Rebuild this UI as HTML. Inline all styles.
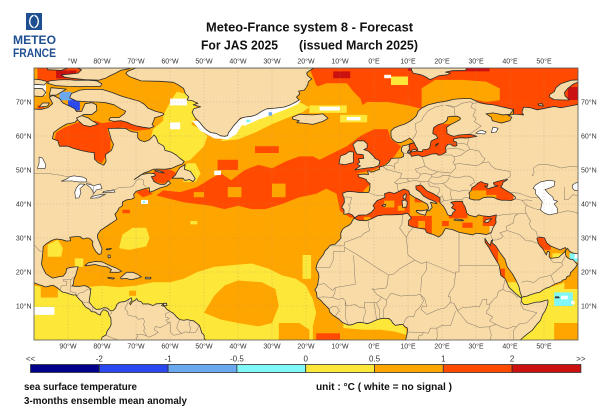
<!DOCTYPE html>
<html><head><meta charset="utf-8"><style>
html,body{margin:0;padding:0;background:#fff}
svg{display:block}
.Y{fill:#fde83a}.O{fill:#ffa500}.R{fill:#ff4a00}.D{fill:#cc1111}.W{fill:#fff}.C{fill:#80f8f8}.LB{fill:#6aa8f0}.B{fill:#2a48f0}
.t{font-family:"Liberation Sans",sans-serif;font-size:7px;fill:#333}
</style></head><body>
<svg width="612" height="408" viewBox="0 0 612 408" xmlns="http://www.w3.org/2000/svg">
<rect width="612" height="408" fill="#fff"/>
<defs>
<clipPath id="cMed"><polygon points="-5.6,36 -4.5,36.7 -2.1,36.8 -0.7,37.6 0.2,38.8 -0.3,39.5 0.9,41 3.2,41.9 3.1,43 4.5,43.5 6,43.1 7.5,43.8 8.8,44.4 10.2,43.9 10.5,42.9 12,41.9 13.5,41.2 15.6,40 16.1,38.9 15.7,38 16.2,38 17.1,39 16.6,40.5 18.5,40.1 18,40.7 16,41.5 14.5,42.4 13.6,43.5 12.4,44.3 12.3,45.3 13.7,45.6 14.3,45.2 15.5,43.9 17.5,43 19.4,41.8 19.4,40.3 20.3,39.5 21,38.4 21.7,36.8 22.8,36.5 23.2,37.5 24,38.2 22.8,38.9 23.5,39.7 22.6,40.5 24,40.8 26,40.8 26.2,40.1 26.7,39.3 27,38.5 27.3,37.3 28,36.7 30,36.2 30.7,36.8 32,36.5 34,36.3 36,36.8 35.8,35.5 35.9,34.5 35,33 34.5,31.6 33,31 32,31.2 30,31.4 29,30.9 25,31.7 23,32.5 21,32.8 20,31 19,30.3 17.5,31 15.5,31.6 15,32.6 13,32.9 11.5,33.2 10.1,33.7 10.2,35.2 11,35.8 10.3,36.8 9.8,37.3 8,36.9 5,36.8 3,36.8 1,36.5 -1,35.5 -2.2,35.1 -4.5,35.2 -5.9,35.8"/></clipPath>
<clipPath id="cBS"><polygon points="28,41.6 28.2,42.6 27.9,43.2 28.6,44 28.8,44.8 29.7,45.3 30.5,46.1 31.5,46.6 32.5,46.1 33.5,45.9 33.4,45.2 32.5,45.3 33.6,44.5 34.5,44.8 35.5,45.1 36.5,45.3 35.4,45.6 35.1,46.2 36.5,46.7 38.2,47.1 39.3,47.2 38,46.4 37.7,45.6 37.3,45 38.2,44.4 39.5,43.6 40.5,43 41.6,42 41.5,41.5 40.3,41 39,41.1 37.5,41.1 36.3,41.4 35.5,41.8 34.8,42 33.3,42 32,41.8 31,41.2 29.2,41.2"/></clipPath>
<clipPath id="cRS"><polygon points="32.6,29.9 32.7,28.7 33.8,27.2 35,25 36.8,22 37.3,19 38.6,18 39.7,15.5 41.5,13.8 43.2,12.4 43.5,12.6 43,14 42.6,15.8 41.8,17.5 40.7,19.5 39.2,21.5 38.5,23.8 37.2,25.5 35.8,27.7 34.7,28.6 34.9,29.5 34.5,29.2 34.2,27.8 33.5,28.5"/></clipPath>
<clipPath id="cPG"><polygon points="47.9,29.9 48.5,30.3 50.1,30.1 50.8,28.6 52,27.6 54.7,26.5 56.3,27.2 56.5,26.6 56.3,26.3 56,25.8 55.5,25.4 54.3,24.3 52,24 51.5,24.5 51.6,25.9 51,26.1 50.7,25 50.2,25.8 49.6,26.9 48.8,27.7 48.3,28.5"/></clipPath>
<clipPath id="cBL"><polygon points="10.6,57.7 11.8,58 12.3,57 12.8,56.3 12.9,55.5 14.2,55.4 14.4,56 15.8,56.1 16.4,56.6 16.6,57.5 16.8,58.5 17.8,59 18.8,59.4 18.2,60.3 17.3,60.7 17.4,61.7 17.6,62.5 18.8,63.3 20.5,63.8 21.5,64.6 21.7,65.6 23,65.8 24.5,65.8 25.4,65.3 25.3,64.8 23.8,64 22.4,63.3 21.3,62.5 21.5,61.5 21.4,60.8 22.5,60.2 23.5,59.9 25,60.3 26.5,60.4 28,60.5 29.5,60.2 30.3,59.9 28.5,59.6 27,59.4 25.5,59.5 23.5,59.2 23.4,58.5 24.3,58.2 24.4,57.2 23.9,57 23.1,57.1 22.6,57.6 21.7,57.5 21.1,56.8 21.1,56 21.2,55.2 20.4,54.8 19.6,54.4 18.8,54.4 18.5,54.8 17,54.7 15.5,54.2 14.2,53.9 13,54.4 12,54.2 11,54 10.8,54.6 10.2,54.9 9.9,55.5 10.5,56.2 10.3,56.9"/></clipPath>
</defs>

<g transform="matrix(3.4 0 0 -3.4 374 340)">
<rect x="-100" y="0" width="160" height="80" class="O"/>

<polygon class="Y" points="-100,0 -100,16 -93,15 -90,14 -85,15.5 -80,16 -75,15.5 -70,16 -65,17 -60,17 -56,18 -52,20 -47,21.5 -42,22 -36,22.5 -31,21 -27,19 -23,18 -20,16 -18,12 -17,8 -18,4 -18,0"/>
<polygon class="O" points="-98,12.5 -93,12.5 -93,17 -98,17"/>
<polygon class="O" points="-50,8 -47,13 -44,16 -40,17.5 -33,17 -29,15 -28,10 -30,5 -34,4 -40,5 -45,6"/>
<polygon class="O" points="-28,0 -28,5 -22,5 -19,3 -19,0"/>
<polygon class="O" points="-72,13 -70,13 -70,14.5 -72,14.5"/>
<polygon class="W" points="-100,7.4 -94,7.4 -94,9.7 -100,9.7"/>
<polygon class="Y" points="-75,27 -72,26.5 -67,27.5 -66,30 -67,33 -71,33 -74,31"/>
<polygon class="Y" points="-96,24.5 -92,24.5 -91.5,27 -93,29.5 -96,28"/>
<polygon class="Y" points="-88,21.5 -85.5,21.5 -85.5,24 -88,24"/>
<polygon class="Y" points="-54,34 -52,34 -52,35 -54,35"/>
<polygon class="Y" points="-21,18 -18.5,18 -18.5,25 -21,25"/>
<polygon class="Y" points="-9,5.5 -3,5.5 3,6.5 8,5 9.5,3 9.5,1.5 6,2.5 2,3 -3,3 -9,3.5"/>
<polygon class="R" points="-17,0 -17,2 -10,2 -10,0"/>
<polygon class="R" points="-74,37.3 -71.8,37.3 -71.8,38.3 -74,38.3"/>

<polygon class="Y" points="42,0 42,12 45,13.5 50,15 55,16.5 58,18 61,18 61,0"/>
<polygon class="O" points="56,15 61,15 61,22 56,22"/>
<polygon class="O" points="53,0 61,0 61,5 53,5"/>
<polygon class="C" points="53,10 58.5,10 58.5,14 53,14"/>
<polygon class="W" points="55,12 57,12 57,13 55,13"/>
<polygon class="W" points="58,10.5 59,10.5 59,11.5 58,11.5"/>
<polygon class="C" points="57.5,23 60,23 60,25.5 57.5,25.5"/>
<polygon class="W" points="59,24 60.5,24 60.5,25.5 59,25.5"/>

<polygon class="R" points="-19,80 61,80 61,67 40,66 35,68 30,70 20,69.5 14,68 10,67 5,66 0,66 -5,66 -10,70 -17,75"/>
<polygon class="O" points="-22,64 -5,64 -3,68 -4,71 -6,73 -8,75.5 -14,75.5 -18,74 -22,70"/>
<polygon class="O" points="-5,60 5,60 8,63 12,66 14,68 10,69 4,70 -2,70 -5,68"/>
<polygon class="O" points="14,68 20,70 28,71 33,70 37,70.5 37,74 33,76 26,76.5 18,76.5 14,74"/>
<polygon class="D" points="-12,77 -7,77 -7,79 -12,79"/>
<polygon class="D" points="20,79 34,79 34,80 20,80"/>
<polygon class="D" points="57,70.6 60,70.6 60,74.4 57,74.4"/>
<polygon class="D" points="10,79.2 14,79.2 14,80 10,80"/>
<polygon class="Y" points="5,75 10,75 10,77.5 5,77.5"/>
<polygon class="W" points="3,77 5,77 5,78 3,78"/>

<polygon class="R" points="-22,51 -22,47.5 -15,45 -11,43 -10,38 -7,36 -5,36 -3,44 -1,46 -2,48 -5,49 0,50 3,51.5 6,54 8,57 5,59 4,62 0,62 -4,60 -8,57 -12,55 -16,53"/>
<polygon class="R" points="-62,44 -57,43.5 -52,45 -48,47.5 -45,49 -42,47 -38,50 -34,51.5 -30,50.5 -26,52.5 -22,54 -18,54 -14,52 -12,49 -13,45 -17,43 -22,42 -27,40 -32,38.5 -36,38.5 -40,39.5 -44,38.5 -48,39.5 -52,40 -56,40.5 -60,41.5 -64,42.5"/>
<polygon class="O" points="-43,42 -39,42 -39,45 -43,45"/>
<polygon class="O" points="-30,42 -26,42 -26,46 -30,46"/>
<polygon class="O" points="-53,42 -50,42 -50,43.5 -53,43.5"/>
<polygon class="R" points="-46,50 -40,50 -40,53 -46,53"/>
<polygon class="R" points="-35,55 -28,55 -28,57 -35,57"/>
<polygon class="R" points="-66,48.5 -64,50 -60,50.2 -58,49 -60,47 -62,46 -64.5,46.5"/>
<polygon class="R" points="-70,43.5 -67,44.5 -65,43 -68,42"/>
<polygon class="W" points="-68.5,40 -66.5,40 -66.5,41.2 -68.5,41.2"/>
<polygon class="C" points="-68,40.3 -67.3,40.3 -67.3,40.9 -68,40.9"/>
<polygon class="Y" points="-56,46.5 -52.5,46.5 -51,49 -52.5,52 -55,52 -56.5,49"/>
<polygon class="W" points="-47,48.5 -45,48.5 -45,49.8 -47,49.8"/>

<polygon class="R" points="-94,58.5 -92,57 -88,56 -85,55.5 -82,53 -80,52 -79,54 -77.5,56 -77.5,59 -78.5,62 -74,62.5 -70,61.5 -66,62 -65,63.5 -70,63.5 -75,64.5 -80,63.8 -82,64.5 -87,64 -91,62.5 -93.5,61"/>

<polygon class="Y" points="-66,58 -63,55 -60,53 -57,52 -54,53 -52,55 -50,57 -49,60 -52,62.5 -55,64 -58,65 -62,64.5 -65,62"/>
<polygon class="Y" points="-62,62 -54,63 -52,66 -53,72 -58,73 -60,70 -62,66"/>
<polygon class="W" points="-60,69 -55,69 -55,71 -60,71"/>
<polygon class="W" points="-60,62 -57,62 -57,64 -60,64"/>
<polygon class="Y" points="-45,58.5 -40,59 -35,61 -30,63.5 -25,65.5 -21,67 -19,68.5 -22,70 -26,69 -31,67.5 -36,65.5 -40,63.5 -43,61"/>
<polygon class="W" points="-53.5,64.5 -51,61.5 -47,59.3 -43,59 -40.5,60.5 -39,63 -36.5,64.8 -35,65.5 -36,66.5 -40,64.5 -42,62 -44,61 -48,62 -50,64.5"/>
<polygon class="W" points="-38,63 -34,64.8 -30,66.3 -26,67.8 -22.5,69.3 -21.5,70.5 -24,70.5 -28,69.5 -33,68.2 -37.5,66 -40.5,64"/>
<polygon class="C" points="-37.6,64.1 -36.4,64.1 -36.4,64.8 -37.6,64.8"/>
<polygon class="LB" points="-31,66 -30,66 -30,67 -31,67"/>
<polygon class="Y" points="-19,66.8 -8,66.8 -8,69 -19,69"/>
<polygon class="W" points="-16,67.5 -10,67.5 -10,68.6 -16,68.6"/>
<polygon class="Y" points="-10,64 -2,64 -2,66.2 -10,66.2"/>
<polygon class="W" points="-8,64.6 -4,64.6 -4,65.6 -8,65.6"/>

<polygon class="R" points="-99,76 -86,76 -86,80 -99,80"/>
<polygon class="D" points="-93.5,77 -87.5,77 -87.5,79.3 -93.5,79.3"/>
<polygon class="W" points="-100,72 -96.5,72 -96.5,76 -100,76"/>
<polygon class="B" points="-90,67.5 -86.5,67.5 -86.5,71 -90,71"/>
<polygon class="LB" points="-92.5,70.5 -89,70.5 -89,73 -92.5,73"/>
<polygon class="LB" points="-96,67.5 -94,67.5 -94,68.5 -96,68.5"/>
<polygon class="R" points="-99,68 -97,68 -97,69 -99,69"/>

<path fill="#f8dba7" stroke="#2b2b2b" stroke-width="0.24" stroke-linejoin="round" d="
M-101,68 -98,67.8 -96,68.3 -94.5,69.5 -95.5,71.5 -94.3,71.9 -92.5,71 -91.5,69.7 -89.5,68.8 -88,68 -87.5,67.2 -86,67.2 -85,69.5 -83,69.8 -81.7,69.2 -81.5,67.5 -83,66.3 -85.5,66.3 -87,65 -88,64 -90.5,63.5 -92.5,62.3 -94.2,61 -94.6,59.2 -93,58.6 -92.5,57 -90,57 -88.5,56.4 -86,55.7 -84,55.3 -82.3,55.1 -82.2,53.2 -81.2,52.2 -79.5,51.4 -78.8,52.5 -79,54.5 -77.2,55.8 -76.6,57.5 -77.3,59 -77.7,60.5 -78.2,62.2 -75,62.3 -73,62.2 -71.5,61.3 -69.5,61 -69.5,59.5 -68.8,58.7 -67.5,58.3 -66,58.9 -64.7,60.3 -64,59.5 -63.5,58 -61.8,57 -61.5,55.8 -59.5,55.2 -58,54.3 -57.3,53.6 -55.8,52.5 -56.5,51.7 -57.5,51.4 -59.5,50.5 -61.5,50.2 -63.5,50.3 -65,50.2 -66.5,49.5 -67.5,49.2 -69,48.2 -70.5,47.2 -68.5,48.6 -66.2,49.1 -64.5,48.9 -64.3,48.3 -65.5,48 -65,47.2 -64.8,46.7 -64,46.2 -63,45.8 -61.5,45.8 -60.5,46.8 -59.8,46.1 -61,45.3 -63,44.7 -65,43.8 -66,43.5 -66.1,44.8 -67.2,44.6 -68.5,44.2 -70,43.7 -70.7,42.8 -70.5,41.8 -71.5,41.4 -72.8,41.2 -74,40.6 -74,39.5 -75,38.8 -75.5,37.8 -76.2,37 -75.6,35.5 -76.6,34.8 -77.8,34 -79,33.2 -80.5,32.2 -81.3,31 -81.3,30 -80.6,28.4 -80,26.8 -80.3,25.3 -81,25.2 -81.8,26 -82.5,27.2 -82.8,28 -82.7,29 -83.7,29.9 -84.5,30 -85.5,29.7 -86.5,30.4 -88,30.4 -89.5,30.2 -89.2,29.2 -90.5,29.1 -91.8,29.5 -93.5,29.7 -94.8,29.3 -96.5,28.2 -97.3,27.5 -97.4,25.8 -97.6,24 -97.8,22.3 -97.3,21 -96.5,19.5 -95.5,18.8 -94.5,18.2 -92.7,18.6 -91.4,18.8 -90.6,19.8 -90.4,21 -89.5,21.3 -88,21.5 -87,21.5 -87.4,20.3 -87.6,19.4 -88,18.5 -88.3,17.6 -88.4,16.4 -88.8,15.9 -88,15.8 -86.5,15.8 -85,16 -84,15.5 -83.3,15 -83.4,14 -83.6,12.5 -83.8,11.3 -83.5,10.8 -82.5,9.6 -81.7,9 -80.5,9.1 -79.5,9.5 -78.5,9.4 -77.5,8.6 -76.8,8.6 -76,9.4 -75.6,10.5 -74.8,11.1 -74.2,11.2 -73.3,11.3 -72.2,11.9 -71.4,12.4 -71.2,11.6 -71.9,10.8 -71.6,10.4 -71,11.3 -70.2,11.7 -69.8,12.2 -69.4,11.5 -68.4,11.2 -68,10.6 -66.2,10.6 -65,10.1 -64.2,10.6 -63,10.7 -61.9,10.7 -62.5,10.1 -61.6,9.9 -60.9,9 -60.2,8.6 -59.8,8.3 -59.1,7.9 -58.5,7.3 -58.1,6.8 -57.1,6 -55.9,5.8 -55,6 -54,5.8 -53,5.6 -52,4.8 -51.3,4.2 -51,3.2 -50.6,2 -50.3,1.8 -49.9,1.2 -50,0.6 -49.5,0 -49,-1 -80,-1 -80.2,-0.1 -80,0.8 -79.5,1.1 -78.8,1.5 -78.5,2.6 -77.7,3.7 -77.3,4.6 -77.4,6.5 -77.9,7.2 -78.2,8.2 -78.8,8.7 -79.6,8.9 -80.3,8.1 -80.5,7.3 -81.2,7.6 -82,8.2 -83.2,8.4 -83.6,9 -84.7,9.6 -85.1,10 -85.7,10.8 -85.8,11.2 -86.5,11.8 -87.4,12.8 -87.7,13.3 -88.4,13.2 -89.4,13.5 -90.6,13.9 -91.4,14 -92.2,14.5 -93.2,15.4 -94.4,16.1 -95.4,15.9 -96.6,15.6 -97.6,16 -98.6,16.3 -99.6,16.7 -101,17.2 Z
M-78.2,24.2 -77.6,24.2 -77.6,25 -78.2,25 Z
M-78.8,26.6 -77.9,26.5 -77.2,26.9 -78.6,26.8 Z
M-61.9,10.1 -60.9,10.1 -61,10.8 -61.9,10.8 Z
M-64.5,49.8 -63,49.3 -61.7,49.1 -62.3,49.5 -64,50 Z
M61,69.5 58,68.9 55,68.3 53,68.7 48,67.7 46,68.3 44,68.5 43.5,67 44,66.2 42,66.4 41,66.4 41,67.8 38,68.5 35,69.2 33,69.4 31,69.8 28.5,71 26,71 23.5,70.8 21,70.2 18.5,69.8 16,69.2 14,68.2 13,67.3 12.5,66 11.5,65 10.5,64.3 9,63.5 7.5,63 6,62.4 5,61.5 5,60 5.3,59.2 5.8,58.7 6.8,58.1 8,58.1 9.5,58.8 10.5,59.4 10.8,59.1 11.2,58.8 11.8,58 10.6,57.7 9.8,57.4 8.5,57.1 8.1,56.5 8.1,55.5 8.6,55 8.7,54 8,53.6 7,53.5 6,53.5 5,53.3 4.6,52.6 4,52 3.3,51.4 2.5,51.1 1.6,50.9 1.6,50.2 0.5,49.8 0,49.5 -1,49.4 -1.3,49.7 -1.9,49.7 -1.6,48.7 -3,48.8 -4.7,48.6 -4.4,47.9 -3,47.5 -2.3,47.2 -2,46.6 -1.2,46 -1.2,45 -1.3,44 -1.6,43.4 -3,43.4 -4.5,43.4 -6,43.6 -7.7,43.7 -9.2,43.2 -9.1,42.3 -8.8,41.8 -8.7,40.5 -9.4,39.2 -9.4,38.7 -8.9,38.5 -8.8,37.9 -8.9,37 -8,37.1 -7.4,37.2 -6.4,36.8 -6,36.3 -5.6,36 -5.3,35.9 -5.9,35.8 -6.3,35.2 -6.8,34.2 -7.6,33.6 -8.5,33.2 -9.3,32.5 -9.8,31.3 -9.7,30 -10.3,29.3 -11.4,28.2 -12.9,27.9 -13.6,27 -14.4,26.2 -14.9,25.1 -15.6,24.2 -16.3,23.3 -16.8,22.2 -17.1,21 -16.7,20.3 -16.3,19.5 -16.2,18.5 -16.5,16.7 -16.8,15.6 -17.4,14.7 -16.9,14 -16.8,13 -16.7,12.4 -15.8,11.8 -15.3,11.3 -14.7,10.6 -14,9.9 -13.3,9.2 -12.9,8.1 -12.1,7.3 -11.3,6.8 -10.3,6.1 -9.2,5.1 -7.6,4.4 -6.5,4.5 -5,5.1 -4,5.2 -2.8,5 -2,4.8 -1,5.1 0,5.6 1,6 2,6.3 3,6.4 4.4,6.3 5,5.8 5.6,4.9 6.3,4.3 7.5,4.5 8.5,4.6 9.1,3.9 9.7,3.6 9.9,3 9.8,2.3 9.6,1.2 9.4,0.5 9.3,-1 42,-1 42.5,-0.5 43.8,0.7 45,1.7 46.5,2.8 47.8,4.5 48.9,5.7 49.6,7.5 50.3,8.5 50.9,10 51.2,11.2 51.1,11.8 50,11.5 48.9,11.2 47.5,11.1 46,10.7 45,10.4 44,10.5 43.3,11.4 43.4,12.5 43.9,12.7 45,12.9 46,13.3 47.5,13.8 48.7,14 49.5,14.6 50.5,15.2 51.5,15.5 52.2,15.9 53.3,16.5 55,17.1 55.5,17.6 56.4,17.9 56.8,18.7 57.6,18.9 57.8,19.8 58.5,20.5 59.3,21.4 59.8,22.3 59.2,22.9 58.6,23.6 57.6,23.8 56.8,24.3 56.4,24.9 56.3,25.5 56.4,26.3 56.9,27 57.5,26.1 58.4,25.6 59.5,25.4 60.5,25.3 61,25.2 Z
M48.5,69 49.8,68.8 49.5,69.5 48.2,69.4 Z
M53.3,12.4 54.5,12.4 54.3,12.7 53.4,12.7 Z"/>

<g clip-path="url(#cMed)">
<rect x="-6" y="30" width="40" height="17" class="O"/>
<rect x="-6" y="30" width="16.5" height="16" class="R"/>
<rect x="3" y="39" width="3" height="2" class="O"/>
<rect x="7" y="38" width="2" height="1.5" class="O"/>
<rect x="-3" y="35" width="2" height="1.2" class="O"/>
<rect x="10.5" y="31" width="6.5" height="5.5" class="R"/>
<rect x="13" y="33" width="2" height="2" class="O"/>
<rect x="12" y="40.5" width="8" height="5.5" class="R"/>
<rect x="22" y="35.8" width="5.5" height="5.2" class="R"/>
<rect x="32" y="33.5" width="4.5" height="3.5" class="R"/>
<rect x="26" y="33" width="3" height="1.5" class="R"/>
<rect x="20" y="33.5" width="2" height="1.5" class="R"/>
</g>
<g clip-path="url(#cBS)">
<rect x="27" y="40" width="14" height="8" class="R"/>
<rect x="28" y="41" width="5" height="3" class="O"/>
<rect x="33" y="41.5" width="3" height="1.2" class="O"/>
</g>
<g clip-path="url(#cRS)">
<rect x="32" y="12" width="12" height="19" class="O"/>
<rect x="32" y="21" width="4.5" height="9" class="R"/>
<rect x="36" y="17" width="2.5" height="4" class="R"/>
<rect x="37" y="12" width="7" height="5" class="Y"/>
</g>
<g clip-path="url(#cPG)">
<rect x="47" y="23" width="11" height="8" class="O"/>
<rect x="47" y="26.5" width="5" height="4.5" class="R"/>
<rect x="52.5" y="23" width="4.5" height="2.5" class="Y"/>
</g>
<g clip-path="url(#cBL)">
<rect x="9" y="53" width="22" height="14" class="R"/>
<rect x="19" y="63.5" width="7" height="2.5" class="O"/>
</g>

<path fill="none" stroke="#2b2b2b" stroke-width="0.24" stroke-linejoin="round" d="
M-5.6,36 -4.5,36.7 -2.1,36.8 -0.7,37.6 0.2,38.8 -0.3,39.5 0.9,41 3.2,41.9 3.1,43 4.5,43.5 6,43.1 7.5,43.8 8.8,44.4 10.2,43.9 10.5,42.9 12,41.9 13.5,41.2 15.6,40 16.1,38.9 15.7,38 16.2,38 17.1,39 16.6,40.5 18.5,40.1 18,40.7 16,41.5 14.5,42.4 13.6,43.5 12.4,44.3 12.3,45.3 13.7,45.6 14.3,45.2 15.5,43.9 17.5,43 19.4,41.8 19.4,40.3 20.3,39.5 21,38.4 21.7,36.8 22.8,36.5 23.2,37.5 24,38.2 22.8,38.9 23.5,39.7 22.6,40.5 24,40.8 26,40.8 26.2,40.1 26.7,39.3 27,38.5 27.3,37.3 28,36.7 30,36.2 30.7,36.8 32,36.5 34,36.3 36,36.8 35.8,35.5 35.9,34.5 35,33 34.5,31.6 33,31 32,31.2 30,31.4 29,30.9 25,31.7 23,32.5 21,32.8 20,31 19,30.3 17.5,31 15.5,31.6 15,32.6 13,32.9 11.5,33.2 10.1,33.7 10.2,35.2 11,35.8 10.3,36.8 9.8,37.3 8,36.9 5,36.8 3,36.8 1,36.5 -1,35.5 -2.2,35.1 -4.5,35.2 -5.9,35.8 Z
M28,41.6 28.2,42.6 27.9,43.2 28.6,44 28.8,44.8 29.7,45.3 30.5,46.1 31.5,46.6 32.5,46.1 33.5,45.9 33.4,45.2 32.5,45.3 33.6,44.5 34.5,44.8 35.5,45.1 36.5,45.3 35.4,45.6 35.1,46.2 36.5,46.7 38.2,47.1 39.3,47.2 38,46.4 37.7,45.6 37.3,45 38.2,44.4 39.5,43.6 40.5,43 41.6,42 41.5,41.5 40.3,41 39,41.1 37.5,41.1 36.3,41.4 35.5,41.8 34.8,42 33.3,42 32,41.8 31,41.2 29.2,41.2 Z
M32.6,29.9 32.7,28.7 33.8,27.2 35,25 36.8,22 37.3,19 38.6,18 39.7,15.5 41.5,13.8 43.2,12.4 43.5,12.6 43,14 42.6,15.8 41.8,17.5 40.7,19.5 39.2,21.5 38.5,23.8 37.2,25.5 35.8,27.7 34.7,28.6 34.9,29.5 34.5,29.2 34.2,27.8 33.5,28.5 Z
M47.9,29.9 48.5,30.3 50.1,30.1 50.8,28.6 52,27.6 54.7,26.5 56.3,27.2 56.5,26.6 56.3,26.3 56,25.8 55.5,25.4 54.3,24.3 52,24 51.5,24.5 51.6,25.9 51,26.1 50.7,25 50.2,25.8 49.6,26.9 48.8,27.7 48.3,28.5 Z
M10.6,57.7 11.8,58 12.3,57 12.8,56.3 12.9,55.5 14.2,55.4 14.4,56 15.8,56.1 16.4,56.6 16.6,57.5 16.8,58.5 17.8,59 18.8,59.4 18.2,60.3 17.3,60.7 17.4,61.7 17.6,62.5 18.8,63.3 20.5,63.8 21.5,64.6 21.7,65.6 23,65.8 24.5,65.8 25.4,65.3 25.3,64.8 23.8,64 22.4,63.3 21.3,62.5 21.5,61.5 21.4,60.8 22.5,60.2 23.5,59.9 25,60.3 26.5,60.4 28,60.5 29.5,60.2 30.3,59.9 28.5,59.6 27,59.4 25.5,59.5 23.5,59.2 23.4,58.5 24.3,58.2 24.4,57.2 23.9,57 23.1,57.1 22.6,57.6 21.7,57.5 21.1,56.8 21.1,56 21.2,55.2 20.4,54.8 19.6,54.4 18.8,54.4 18.5,54.8 17,54.7 15.5,54.2 14.2,53.9 13,54.4 12,54.2 11,54 10.8,54.6 10.2,54.9 9.9,55.5 10.5,56.2 10.3,56.9 Z"/>

<path fill="#f8dba7" stroke="#2b2b2b" stroke-width="0.24" stroke-linejoin="round" d="
M8.4,39 9.6,39.1 9.8,40.6 9.2,41.2 8.2,40.9 8.4,39.9 Z
M8.6,41.6 9.3,41.4 9.5,42.8 9.3,43 8.6,42.4 Z
M12.4,37.8 13.5,37.1 15.1,36.7 15.6,38.3 14,38 12.5,38.1 Z
M23.5,35.3 24.5,35.1 26.3,35.1 26.2,35.3 24,35.6 Z
M32.3,34.7 33.5,34.6 34.6,35.7 33,35.4 Z
M2.3,39.5 3.2,39.3 3.5,39.8 2.9,39.9 Z
M11,55.3 12.6,55.6 12.3,56.1 11.2,55.9 Z
M9.8,55.1 10.8,55.1 10.7,55.6 10,55.5 Z
M18.1,57 18.8,57.6 18.9,57.9 18.2,57.4 Z"/>

<path fill="#ffa500" stroke="#2b2b2b" stroke-width="0.24" d="M41,67.8 41,66.4 39.5,66 40.5,65.5 40,64.5 37.5,63.8 36,64.2 34.8,64.5 34.5,65.5 33,66.5 35,66.8 38,66.2 40,66.4 Z"/>

<path fill="#ffffff" stroke="#2b2b2b" stroke-width="0.18" d="
M46.8,44.6 47.5,45.6 49,46.5 51.5,47 53.2,46.7 53,45.3 51.2,44.5 50.3,44.3 51.3,43.1 52.6,42 52.8,41.2 54,40.8 53,40 53.9,38.8 53.9,37.3 51.5,36.8 50,37.4 49,38.2 49.3,39.9 49.5,40.6 48.6,41.8 47.5,43 47.5,44.2 Z
M58.3,45.5 59.3,46.2 61,46.5 61,44 59,44 58.5,44.5 Z
M30,60.8 32.5,60.6 33,61.2 31.5,61.7 30.5,61.3 Z
M34.5,61 36,61.2 36.5,62.3 35,62.6 Z
M-92,46.7 -89,46.8 -87,46.5 -84.6,46.5 -84.5,47.3 -85.5,47.9 -88.3,48.3 -89.5,48 -90.5,47.3 Z
M-87.8,41.7 -86.8,41.8 -86.2,43.3 -86.5,44.5 -85,45.8 -86.5,45.9 -87.5,44.8 -88,43.5 Z
M-84.5,46 -82.5,45.4 -80.5,45.9 -80,44.5 -81.6,44.2 -82.5,43 -82.8,44 -83.5,44.9 -84.5,45.7 Z
M-83.4,41.7 -81,41.8 -79,42.8 -79.5,42.9 -81.5,42.6 -83,42.2 Z
M-79.8,43.3 -78,43.4 -76.2,43.5 -76.5,44.2 -78,43.9 -79.5,43.7 Z
M-99,50.5 -96.8,50.4 -96.5,51.5 -97.5,53.5 -98.5,53.8 -98.5,52 Z"/>

<path fill="none" stroke="#8a7c6c" stroke-width="0.15" stroke-linejoin="round" d="
M-101,49 -95.2,49 -94.6,48.7 -93,48.6 -91,48.2 -89.6,48
M-84.4,46.5 -83.6,46.1 -82.4,45.3 -82.5,43 -83.2,42 -82.5,41.7 -79,42.8 -79.1,43.4 -76.5,44 -75,44.9 -71.5,45 -70.8,45.4 -70,46.7 -69.2,47.4 -68.3,47.3 -67.8,47 -67.8,45.7 -67.1,45.1
M-97.2,25.9 -98.5,26.3 -99.5,27.5 -100.5,28.5 -101,29
M-92.2,14.5 -92.2,15.3 -91.7,16.1 -90.4,16.1 -90.4,17.3 -91.4,17.3 -91.4,17.8 -89.1,17.8 -88.3,18.5
M-89.2,17.8 -89.2,15.9 -88.2,15.7
M-89.2,15.9 -89.4,14.4 -88.5,14 -87.8,13.9 -87.3,12.9
M-83,15 -84.5,14.8 -85.5,14 -86.8,13.8 -87.3,12.9
M-85.7,11.2 -84.7,11 -83.7,10.9
M-82.9,8.1 -82.8,9 -82.6,9.6
M-77.4,8.7 -77.2,7.9 -77.9,7.2
M-72.2,11.6 -72.4,11 -73.3,9.2 -72.4,8.3 -72.4,7.4 -71,7 -70,6.9 -69.4,6.1 -67.8,6.3 -67.5,5.5 -67.8,4.5 -67.3,3.3 -67.8,2.8 -67.3,2 -66.9,1.2
M-60,8.5 -60.6,8 -61.3,7.8 -61.2,6.7 -60.7,6.7 -60.3,6.2 -61.2,5.9 -60.7,5.2 -60,5.2 -61.4,4.4 -62.9,3.6 -64.3,4 -64.6,3 -63.4,2.2 -64.1,1.9 -64.8,1.4 -66.3,0.8 -66.9,1.2 -68.2,1.7 -69.8,1.7 -69.5,1 -70,0.5 -69.5,-0.5 -69.6,-1
M-57.2,5.9 -57.8,4.6 -58,3.5 -57.3,2.5 -56.5,1.9 -55.5,2.4 -54.2,2.2 -52.6,2.2 -52,3 -51.6,4.2
M-54,5.7 -54.4,4.7 -54,3.6 -54.2,2.2
M-56.5,1.9 -57.5,1.7 -59,1.4 -59.8,2.3 -59.8,4 -60,5.2
M-78.8,1.4 -77.5,0.8 -76,0.3 -75.2,-0.1 -74,-1
M-1.7,35.1 -1.7,33.7 -1.2,32.2 -2.9,31.4 -3.7,30.6 -5.4,29.9 -8.7,28.7 -8.7,27.7 -13.2,27.7
M-8.7,27.3 -8.7,26 -12,26 -12,23.5 -13,21.3 -17,21.3
M-8.7,27.3 -4.8,25 1.2,21 3.2,19.8 4.2,19.1 5.8,19.4 7.5,20.9 12,23.5
M-6,24.9 -5.5,16.4 -11.4,15.4 -12.2,14.6
M-16.5,16.2 -14.6,16.6 -13,15.2 -12.2,14.6 -11.4,15.4
M8.4,36.9 8.2,34 7.5,33 9.5,30.2 10,25 12,23.5
M11.5,33.1 10.3,31.7 9.5,30.2
M12,23.5 14,22.5 15.5,23 24,19.5 24,20 25,20 25,22 25,31.6
M25,22 36.9,22
M15.5,23 15.5,20.7 14,18.5 13.7,14
M4.2,19.1 4,16.5 3.5,15.3 1,15 0,14.9 -0.5,15.1 0.9,13.3 2.2,12.6 3.6,11.7 5,13.8 8,12.9 10,13.2 12.2,13.1 13.6,13.5 14,13
M13.6,13.5 14.6,11.5 13.4,9.5 12.2,8.4 11.7,6.8 10.5,7 9.5,6.5 8.8,5 8.6,4.7
M14,13 14.9,12.2 15.5,9.9 14.2,10 13.9,9 15.5,7.5 16.5,7.9 18.5,8.8 19.1,9 21,9.5 22.4,11 22.5,12.7 21.8,12.7 22.3,14 23.5,15.7 24,19.5
M22.4,11 23.5,10.8 24.5,8.7 25.5,7.5 27.4,5.1 31,3.7 33.9,3.9 35.9,4.6 34,5.6 34.9,6.8 33,7.9 33.1,8.4 33.9,9.5 34.1,10.6 35.4,12.2 36.1,12.6 36.6,14.3 37.9,14.9 38.5,17.6 38.6,18
M24,8.5 22.5,4.2 20,4.3 18.5,3.5 16.6,3.5 16,2 14.5,2.2 13.3,2.2 11.3,2.3 9.8,2.3
M18.5,3.5 18.6,1 18,-1
M14.5,2.2 14.2,1.5 13.2,1.2 13,-1
M35.9,4.6 38,3.6 39.5,3.4 41,4 41.9,3.9 43,4.9 44.9,5 47.9,8 44,9 43,10.9 43.3,11.4
M41.9,3.9 41,2.8 41,-1
M33.9,3.9 34.5,1.5 34,-1
M36.6,14.3 37.9,14.9 38.8,14.4 40.4,14.1 41.7,13 42.4,12.5
M23.5,10.8 24.6,8.7 26,9.5 27.6,9.6 30,9.9 31,9.7 32,12 33.2,12 33.1,10.5 34.1,10.6
M-11.4,15.4 -11.5,13.9 -12.2,12.5 -13.7,12.6 -15.2,12.7 -16.7,12.4
M-12.2,12.5 -10.6,11.9 -9.2,12.3 -8.4,11.4 -8.5,10.2 -7.6,10.1 -5.5,10.4 -4.3,9.6 -2.7,9.5 -2.9,11 -0.6,11 0.9,11 1.4,11.4 2.2,12.6
M-13.3,9.2 -12,9.9 -10.8,9.7 -10.2,8.4 -10.7,8.1 -11.4,6.9
M-8.4,11.4 -8.2,10.1 -8.5,7.5 -8.3,6.3 -7.5,4.4
M-2.9,11 -2.5,8 -3.2,6.3 -2.9,5
M0,11 0.5,8 0.7,6.2 1.2,6.1
M1.6,6.2 1.6,9 0.8,10.6 0.9,11
M2.7,6.4 2.8,9 3.6,10.3 3.6,11.7
M34.2,31.3 34.9,29.5
M-8.9,41.9 -8.2,42.1 -6.5,41.9 -6.8,41.1 -6.9,40.2 -7.5,39.7 -7,39 -7.3,38.4 -7.4,37.2
M-1.8,43.4 0,42.7 1.5,42.5 3.2,42.4
M2.5,51.1 4,50 4.8,50 5.8,49.5 6.4,49.5 8.2,49 7.6,47.6 6,46.3 6.8,45.8 7,44.2 7.5,43.8
M3.3,51.4 4.4,51.4 5.8,51.1 6,50.8 6.1,50.1
M6.1,50.8 6,51.8 7,52.3 7.2,53.3
M8.6,54.9 9.9,54.8
M14.2,53.9 14.4,53.2 14.6,52.5 15,51.1 12.2,50.3 12.5,49.5 13.8,48.8 13,47.5 10.5,47.5 9.6,47.5 7.6,47.6
M6,46.3 7,45.9 8.5,46.2 10.4,46.6 9.6,47.5
M10.4,46.6 12.2,47 13.7,46.5 13.6,45.5
M15,51.1 16.6,50.1 18.8,49.5 22.6,49.1 23.9,50.4 24.1,50.9 23.5,52 23.2,52.3 23.8,53 23.5,53.9 22.8,54.4 19.6,54.4
M13.8,48.8 15,49 16.9,48.6 17,48 16.5,47.5 16,46.7 13.7,46.5
M17,48 18.8,47.8 20.5,48.5 22.2,48.4
M16.9,48.6 17.8,48.9 18.8,49.5
M16,46.7 17.5,45.9 18.9,45.9 20.3,46.1 21.2,46.4 22,47.4 22.2,48.4 22.9,48 24.9,47.7 26.6,48.2 28,48.2 29.1,47.5 29.6,46.4 28.2,45.5 28.9,45.3
M22.7,44.2 25,43.7 27,44.1 28.6,43.7
M20.3,46.1 21.5,45 22.7,44.2 22.4,43 22.9,41.3 26,41.3 26.4,41.8 28,42
M19.4,40.3 20.6,41 22.9,41.3
M15.8,46.3 16.5,45.2 19,44.9 19.4,44 18.5,42.5
M19.4,41.8 20,42.5 20.6,41
M23.5,51.6 25,51.9 27,51.6 30.5,51.3 31.8,52.1 33.8,52.4 34.4,51.3 35.6,50.4 38,49.9 40,49.6 40.1,48.3 39.7,47.8 38.2,47.1
M23.5,53.9 25.5,54.3 26.8,55.3 28.2,56.1 30.9,55.6 31.8,54 32.7,53.3 31.8,52.1
M21,56 22.5,56.4 25,56.2 26.6,55.7
M21.8,57.6 24.3,57.8 25.6,57.9 27.4,57.5 28,56.5 28.2,56.1
M27.4,57.5 27.7,58.5 28,59.4
M11.4,59.1 12.5,61 12.2,62.5 12.1,63.6 14,64.5 14.5,65.7 16,67.5 18,68.5 20.5,69.1
M23.9,65.8 23.7,66.9 23.6,68.3 21,69.1 24,68.6 25.8,69.6 28.4,70.1 29,69.6
M28,60.5 29.5,61.5 31.5,62.9 29.5,64.2 30,65.1 29.1,66 29.9,67.7 28.5,68.5 29,69.6 30.5,69.8
M47,48.2 46.5,48.5 47.1,49.2 46.8,50.5 48.5,51.7 50.7,51.6 53,51.2 55,50.6 58,51.1 61,50.8
M40,43.4 42.5,43.2 44,42.7 46,42 48,41.8 48.6,41.8
M41.6,41.5 43.5,41.1 45,41.2 46.5,41
M43.5,41.1 44.8,39.7 44.4,38.3 44.8,37.2 42.4,37.1
M36.2,36.7 37,36.7 38.2,36.9 40.7,37.1 42.4,37.1 41.3,36.4 41,34.4 38.8,33.4
M44.8,37.2 45.5,35.8 46.1,35.1 45.7,34.2 46.2,33 47.7,31.9 47.9,31 48.5,29.9
M38.8,33.4 39.2,32.2 37,31.5 38,30.5 37.5,30 36.1,29.4 35,29.4
M39.2,32.2 42.8,31 44.7,29.2 46.5,29.1 47.7,28.5 48.4,28.5
M43.4,17 45,17.4 47,16.9 48.8,18.3 52,19 55.6,22 55.2,22.7 56.4,24.9
M51.6,24.2 52.6,22.9 55.2,22.7
M52,19 53.1,16.7
M53.9,37.3 57,38 59.5,37.5 60.5,36.6 61,36.4
M56,45 56,41.3 57.1,41.3 58.6,42.8 60,42.3 61,41.5
M44.8,39.7 46.5,38.9 48,38.4 48.9,38.4"/>
</g>

<!-- pixel-space land overlay (Arctic islands, Greenland, Iceland, Caribbean, British Isles) -->
<g fill="#f8dba7" stroke="#2b2b2b" stroke-width="0.8" stroke-linejoin="round">
<polygon points="125.8,73.4 129.2,76.5 141.1,80.9 159.8,81.3 173.4,82.3 178.5,85 183.6,88.4 185.3,93.5 188.7,96.9 187,100 192.1,100.6 197.9,103.4 193.1,104.7 200.6,106.8 193.8,108.8 192.1,112.2 193.8,115.6 195.5,118.3 199.9,122.4 203,126.5 206.4,129.9 210.8,132.6 215.9,133.3 220.3,135.7 224.4,136.3 227.5,135.7 228.5,132.6 231.2,129.2 233.6,125.8 236.6,122.4 240.4,118.3 245.5,117 251.6,116.3 256.7,114.6 261.8,111.2 266.9,108.8 275.4,108.1 283.9,107.1 290.7,104.7 295.8,102 299.2,100 296.5,97.2 299.9,93.8 298.5,91.1 304.3,90.1 306,87.7 307.7,85 308.4,81.6 311.8,78.9 307.7,75.8 306.7,73.1 309.4,70.7 312.8,68.7 313.8,68 136,68 127.5,71.4"/>
<polygon points="102,89.4 112.2,92.5 120.7,95.9 130.9,98.9 139.4,101.3 144.5,104.4 147.9,108.1 155.4,111.2 163.2,113.2 163.9,114.6 158.8,116.6 154.7,117.6 153.7,121 152,124.4 154,126.5 149.6,128.2 142.8,127.2 136,125.8 130.9,124.1 127.5,122.4 120.7,120.7 113.9,121.4 108.8,120 110.5,117.6 119,117.6 124.1,113.9 125.8,111.2 120.7,108.8 113.9,104.7 105.4,102.7 96.9,102 86.7,101.7 76.5,101 69.7,97.9 71.4,93.5 79.9,90.1 86.7,89.4 95.2,89.4"/>
<polygon points="78.2,120.7 83.3,125.1 90.1,126.5 98.1,124.1 91.8,120.7 88.4,118 81.6,115.6 76.5,118"/>
<polygon points="47.6,83.3 56.1,85.7 68,86.4 79.9,86.7 90.1,86.4 100.3,86.4 102,84 96.9,80.9 88.4,80.2 74.8,80.2 68,79.6 59.5,79.9 49.3,80.9"/>
<polygon points="71.4,78.2 85,79.6 98.6,80.2 105.4,78.2 110.5,75.5 115.6,73.1 120.7,70.4 129.2,68.7 130.9,68 77.4,68 81.6,69.7 78.2,73.1 69.7,74.1 61.2,74.8 64.6,77.2"/>
<polygon points="47.6,69.7 61.2,70.4 68,68 47.6,68"/>
<polygon points="34,84.3 44.2,85 47.6,81.6 40.8,79.9 34,79.1"/>
<polygon points="34,96 42.5,96.6 45.9,92.5 42.5,88.7 34,88.4"/>
<polygon points="49.3,95.2 56.1,95.2 66.3,89.1 51,87.7"/>
<polygon points="39.1,107.1 47.6,106.1 49.3,103 42.5,103"/>
<polygon points="292.4,117.3 299.2,114.2 312.8,114.9 323,113.9 328.1,118.3 323,121.4 312.8,124.4 302.6,123.1 296.8,122.7 299.2,120.7 292.4,119"/>
<polygon points="85,265.5 88.4,262.8 95.2,261.5 102,261.8 110.5,265.9 116.6,268.3 121.7,271.3 119,272.3 109.8,272.3 111.5,269.6 107.1,266.9 100.3,265.9 95.2,264.5 90.1,265.2 85.3,265.9"/>
<polygon points="120.7,277.4 126.5,272.3 132.6,272.3 137.7,274.4 141.4,276.8 137.7,278.1 131.2,279.8 126.5,278.5 121,278.8"/>
<polygon points="107.8,277.4 114.6,278.1 112.9,279.1 108.1,278.1"/>
<polygon points="145.5,277.1 151,277.4 150.6,278.8 145.5,278.8"/>
<polygon points="411.4,68 411.4,69.7 413.1,73.1 420.9,74.8 425,76.5 430.1,79.6 433.5,78.2 438.6,75.8 447.1,74.8 450.5,73.1 445.4,72.1 452.2,70.7 465.8,70.4 466.5,68"/>
<polygon points="549.1,96.9 554.2,99.6 562.7,100 569.5,100 565.1,95.9 564.4,92.5 567.8,88.4 572.9,84.3 578,82.3 578,79.9 571.2,80.2 561,83.6 555.9,87.7 554.2,91.8 550.1,94.2"/>
<polygon points="357,140.8 363.8,140.8 367.2,143.8 367.2,147.9 363.8,149.6 368.6,151.3 373.7,156.4 375,158.4 379.8,160.8 378.8,165.6 374,167.3 367.2,168 360.4,169 354.6,170 360.4,165.9 357,164.2 359.7,162.2 358.4,158.8 363.8,158.4 363.1,154.7 357,154 355.3,151.3 354.3,147.9 352.9,144.5"/>
<polygon points="353.6,152 353.3,156.7 353.6,162.5 345.1,164.6 339,163.9 340,158.4 340.7,155.7 345.1,154.4 349.2,151.6"/>
<polygon points="172,178.2 175.4,175.1 177.1,171.7 179.9,167.6 185,164.6 184.3,169.3 190.4,171.4 193.5,175.8 195.2,178.8 193.1,181.6 189.4,179.5 185,180.5 182.9,178.2 176.1,178.2"/>
</g>

<path fill="#fff" d="M0 0H612V68H0Z M0 340H612V408H0Z M0 68H34V340H0Z M578 68H612V340H578Z"/>

<g stroke="#b8906a" stroke-width="0.6" stroke-dasharray="1 2.2" opacity="0.75" fill="none">
<path d="M68 68V340M102 68V340M136 68V340M170 68V340M204 68V340M238 68V340M272 68V340M306 68V340M340 68V340M374 68V340M408 68V340M442 68V340M476 68V340M510 68V340M544 68V340"/>
<path d="M34 102H578M34 136H578M34 170H578M34 204H578M34 238H578M34 272H578M34 306H578"/>
</g>
<rect x="34" y="68" width="544" height="272" fill="none" stroke="#555" stroke-width="0.8"/>

<g class="t" text-anchor="middle">
<text x="72.5" y="63.5">°W</text>
<text x="102" y="63.5">80°W</text><text x="136" y="63.5">70°W</text><text x="170" y="63.5">60°W</text><text x="204" y="63.5">50°W</text><text x="238" y="63.5">40°W</text><text x="272" y="63.5">30°W</text><text x="306" y="63.5">20°W</text><text x="340" y="63.5">10°W</text><text x="374" y="63.5">0°E</text><text x="408" y="63.5">10°E</text><text x="442" y="63.5">20°E</text><text x="476" y="63.5">30°E</text><text x="510" y="63.5">40°E</text><text x="544" y="63.5">50°E</text>
<text x="68" y="348.5">90°W</text><text x="102" y="348.5">80°W</text><text x="136" y="348.5">70°W</text><text x="170" y="348.5">60°W</text><text x="204" y="348.5">50°W</text><text x="238" y="348.5">40°W</text><text x="272" y="348.5">30°W</text><text x="306" y="348.5">20°W</text><text x="340" y="348.5">10°W</text><text x="374" y="348.5">0°E</text><text x="408" y="348.5">10°E</text><text x="442" y="348.5">20°E</text><text x="476" y="348.5">30°E</text><text x="510" y="348.5">40°E</text><text x="544" y="348.5">50°E</text>
</g>
<g class="t" text-anchor="end">
<text x="31.5" y="104.5">70°N</text><text x="31.5" y="138.5">60°N</text><text x="31.5" y="172.5">50°N</text><text x="31.5" y="206.5">40°N</text><text x="31.5" y="240.5">30°N</text><text x="31.5" y="274.5">20°N</text><text x="31.5" y="308.5">10°N</text>
</g>
<g class="t" text-anchor="start">
<text x="581" y="104.5">70°N</text><text x="581" y="138.5">60°N</text><text x="581" y="172.5">50°N</text><text x="581" y="206.5">40°N</text><text x="581" y="240.5">30°N</text><text x="581" y="274.5">20°N</text><text x="581" y="308.5">10°N</text>
</g>

<g font-family="'Liberation Sans',sans-serif" font-weight="bold" font-size="13" fill="#111">
<text x="206" y="31.5" textLength="207" lengthAdjust="spacingAndGlyphs">Meteo-France system 8  -  Forecast</text>
<text x="201" y="49.5" textLength="77" lengthAdjust="spacingAndGlyphs">For JAS 2025</text>
<text x="299" y="49.5" textLength="119" lengthAdjust="spacingAndGlyphs">(issued March 2025)</text>
</g>

<rect x="26" y="13" width="16" height="17" fill="#1d4f91"/>
<ellipse cx="34" cy="21.5" rx="4.3" ry="6" fill="none" stroke="#fff" stroke-width="1.4"/>
<rect x="33.3" y="15.5" width="1.6" height="12" fill="#1d4f91"/>
<g font-family="'Liberation Sans',sans-serif" font-weight="bold" font-size="11.5" fill="#1d4f91">
<text x="13" y="44" textLength="43" lengthAdjust="spacingAndGlyphs">METEO</text>
<text x="13" y="57" textLength="43" lengthAdjust="spacingAndGlyphs">FRANCE</text>
</g>

<g stroke="#333" stroke-width="0.8">
<rect x="30.5" y="364.5" width="68.8" height="8" fill="#00008c"/>
<rect x="99.3" y="364.5" width="68.8" height="8" fill="#2a48f0"/>
<rect x="168.1" y="364.5" width="68.8" height="8" fill="#6aa8f0"/>
<rect x="236.9" y="364.5" width="68.8" height="8" fill="#80f8f8"/>
<rect x="305.7" y="364.5" width="68.8" height="8" fill="#fde83a"/>
<rect x="374.5" y="364.5" width="68.8" height="8" fill="#ffa500"/>
<rect x="443.3" y="364.5" width="68.8" height="8" fill="#ff4a00"/>
<rect x="512.1" y="364.5" width="68.8" height="8" fill="#cc1111"/>
</g>
<g font-family="'Liberation Sans',sans-serif" font-size="8" fill="#333" text-anchor="middle">
<text x="30.5" y="361.5">&lt;&lt;</text><text x="99.3" y="361.5">-2</text><text x="168.1" y="361.5">-1</text><text x="236.9" y="361.5">-0.5</text><text x="305.7" y="361.5">0</text><text x="374.5" y="361.5">0.5</text><text x="443.3" y="361.5">1</text><text x="512.1" y="361.5">2</text><text x="580.9" y="361.5">&gt;&gt;</text>
</g>

<g font-family="'Liberation Sans',sans-serif" font-weight="bold" font-size="10" fill="#111">
<text x="24" y="390" textLength="113" lengthAdjust="spacingAndGlyphs">sea surface temperature</text>
<text x="24" y="404" textLength="163" lengthAdjust="spacingAndGlyphs">3-months ensemble mean anomaly</text>
<text x="316" y="390" textLength="136" lengthAdjust="spacingAndGlyphs">unit : °C  ( white = no signal )</text>
</g>
</svg>
</body></html>
